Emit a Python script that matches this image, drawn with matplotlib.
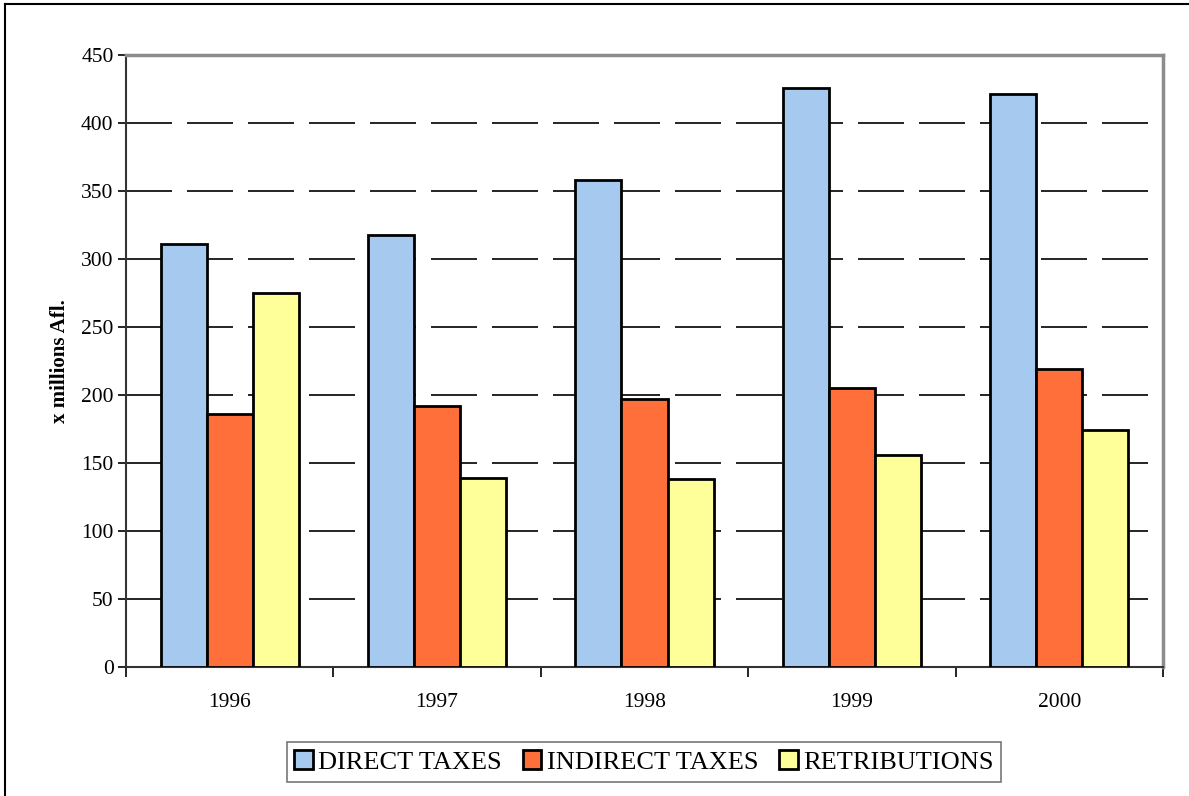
import numpy as np
import matplotlib.pyplot as plt
from matplotlib.lines import Line2D

years = ['1996', '1997', '1998', '1999', '2000']
direct_taxes = [311, 318, 358, 426, 421]
indirect_taxes = [186, 192, 197, 205, 219]
retributions = [275, 139, 138, 156, 174]

series = [('DIRECT TAXES', direct_taxes, '#a6c9ef'),
          ('INDIRECT TAXES', indirect_taxes, '#ff6f3a'),
          ('RETRIBUTIONS', retributions, '#ffff99')]

plt.rcParams['font.family'] = ['Liberation Serif', 'DejaVu Serif']

fig = plt.figure(figsize=(11.89, 7.96), dpi=100)
ax = fig.add_axes([126 / 1189, 1 - 667 / 796, (1163 - 126) / 1189, (667 - 55) / 796])

x = np.arange(len(years))
w = 0.222
for i, (name, vals, col) in enumerate(series):
    ax.bar(x + (i - 1) * w, vals, width=w, color=col, edgecolor='black',
           linewidth=2, label=name, zorder=3)

ax.set_xlim(-0.5, len(years) - 0.5)
ax.set_ylim(0, 450)
ax.set_yticks(np.arange(0, 451, 50))
ax.set_xticks(x)
ax.set_xticklabels(years)
ax.set_xticks(np.arange(-0.5, len(years), 1), minor=True)
ax.tick_params(axis='x', which='major', length=0, pad=19, labelsize=15.5)
ax.tick_params(axis='x', which='minor', length=7, width=1.2, color='black')
ax.tick_params(axis='y', length=6, width=1.2, labelsize=15.5, pad=3)

# dashed gridlines
for yv in range(50, 450, 50):
    ax.axhline(yv, color='black', linewidth=1.2, dashes=(27.6, 9), zorder=1)

ax.set_ylabel('x millions Afl.', fontsize=15, fontweight='bold', labelpad=8)

for s in ['top', 'right']:
    ax.spines[s].set_color('#8c8c8c')
    ax.spines[s].set_linewidth(2.5)
for s in ['left', 'bottom']:
    ax.spines[s].set_color('#333333')
    ax.spines[s].set_linewidth(1.5)

leg = fig.legend(loc='center', bbox_to_anchor=(644 / 1189, 1 - 762 / 796),
                 ncol=3, fontsize=19, frameon=True, fancybox=False,
                 edgecolor='#555555', handlelength=0.7, handleheight=0.7,
                 handletextpad=0.2, columnspacing=0.8, borderpad=0.3)
leg.get_frame().set_linewidth(1.2)

# outer border (top and left visible)
fig.add_artist(Line2D([5 / 1189, 1], [1 - 4 / 796, 1 - 4 / 796],
                      transform=fig.transFigure, color='black', linewidth=1.5))
fig.add_artist(Line2D([5 / 1189, 5 / 1189], [0, 1 - 4 / 796],
                      transform=fig.transFigure, color='black', linewidth=1.5))

fig.savefig('out.png', dpi=100)
